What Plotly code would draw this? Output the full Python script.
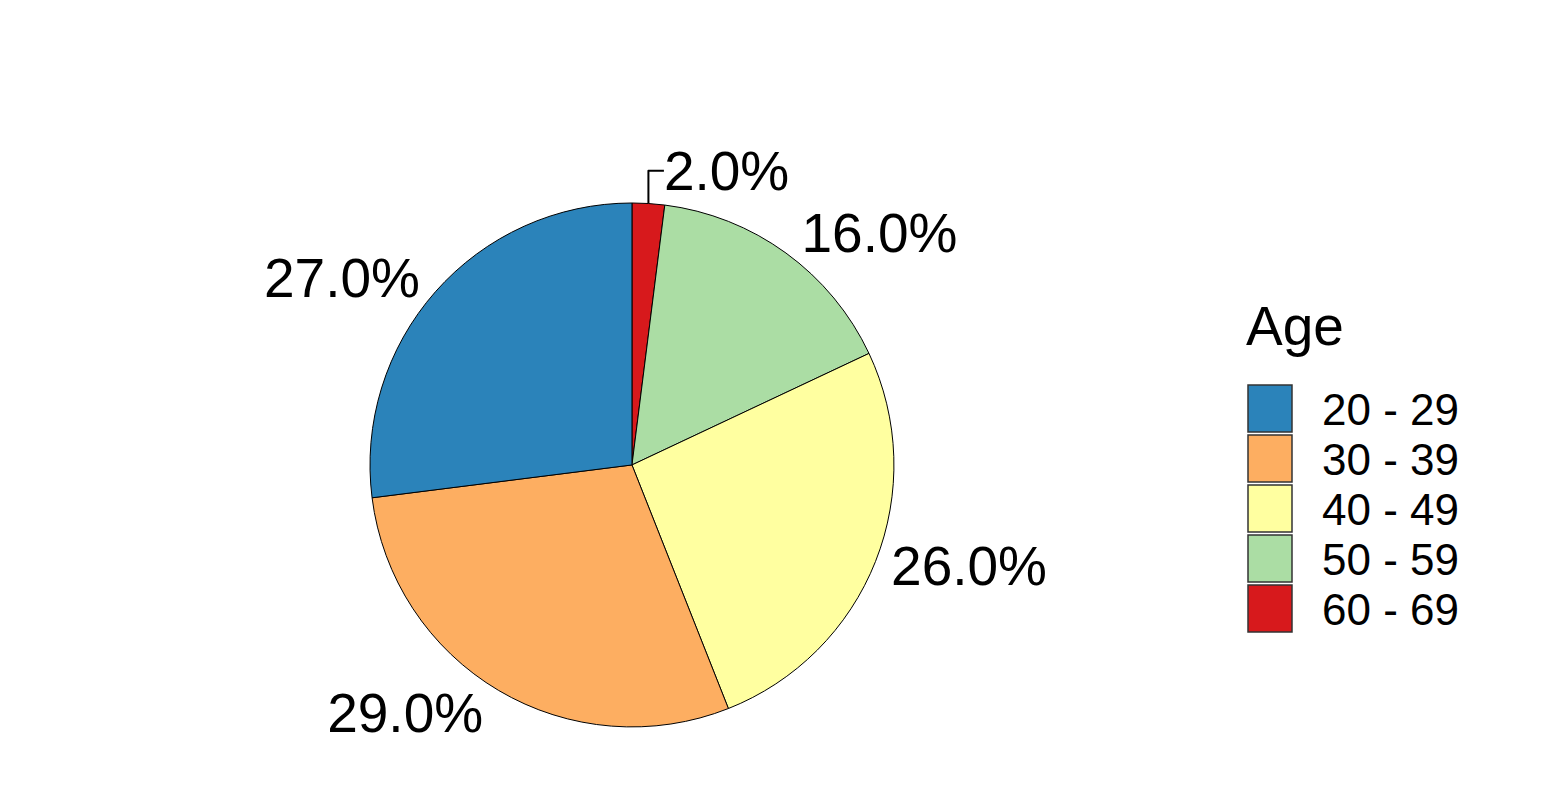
import plotly.graph_objects as go

age_groups = ["20 - 29", "30 - 39", "40 - 49", "50 - 59", "60 - 69"]
percentages = [27.0, 29.0, 26.0, 16.0, 2.0]
colors = ["#2B83BA", "#FDAE61", "#FFFFA0", "#ABDDA4", "#D7191C"]

W, H = 1551, 811
OFF = 8  # page body margin offset in the browser
FONT = "Liberation Sans, Arial"

# Pie is drawn clockwise from 12 o'clock in reversed order, which is the
# same as counterclockwise in the original order.
fig = go.Figure(
    go.Pie(
        labels=age_groups[::-1],
        values=percentages[::-1],
        sort=False,
        direction="clockwise",
        rotation=0,
        marker=dict(colors=colors[::-1], line=dict(color="black", width=1)),
        textposition="outside",
        texttemplate="%{value:.1f}%",
        textfont=dict(size=55, color="black", family=FONT),
        automargin=False,
        domain=dict(x=[0.2334, 0.5712], y=[0.1135, 0.7596]),
        hoverinfo="label+percent",
        showlegend=False,
    )
)

# Legend (ggplot-style large keys)
shapes = []
annotations = [
    dict(
        text="Age", x=(1247 - 11) / W, y=1 - (326 - OFF) / H,
        xref="paper", yref="paper",
        xanchor="left", yanchor="middle", showarrow=False,
        font=dict(size=55, color="black", family=FONT),
    )
]
key_top, key_h, key_w, key_left, step = 385 - OFF, 47, 44, 1248 - OFF, 50
for i, (lab, col) in enumerate(zip(age_groups, colors)):
    y0 = key_top + i * step
    shapes.append(
        dict(
            type="rect", xref="paper", yref="paper",
            x0=key_left / W, x1=(key_left + key_w) / W,
            y0=1 - (y0 + key_h) / H, y1=1 - y0 / H,
            fillcolor=col, line=dict(color="#333333", width=1.5),
        )
    )
    annotations.append(
        dict(
            text=lab, x=(1323 - 11) / W, y=1 - (y0 + key_h / 2 + 1) / H,
            xref="paper", yref="paper", xanchor="left", yanchor="middle",
            showarrow=False, font=dict(size=44, color="black", family=FONT),
        )
    )

fig.update_layout(
    width=W,
    height=H,
    margin=dict(l=0, r=0, t=0, b=0),
    paper_bgcolor="white",
    plot_bgcolor="white",
    font=dict(family=FONT, color="black"),
    showlegend=False,
    shapes=shapes,
    annotations=annotations,
)

fig.write_html("out.html")
